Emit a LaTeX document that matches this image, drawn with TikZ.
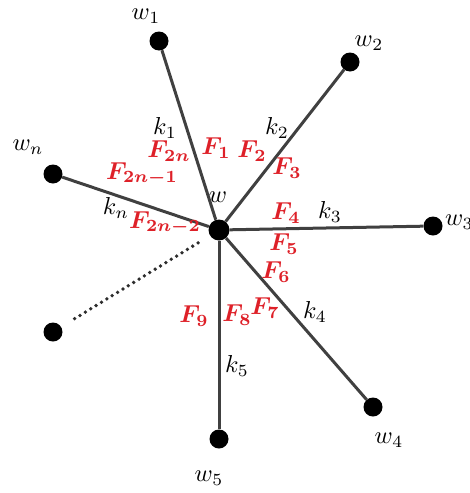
\documentclass[tikz,border=0pt]{standalone}
\usepackage{amsmath}
\usepackage{graphicx}
\definecolor{lred}{RGB}{222,32,40}
\definecolor{lgray}{RGB}{64,64,64}
\newcommand{\mylbl}[1]{\scalebox{2.45}{$#1$}}
\newcommand{\myflbl}[1]{\scalebox{2.45}{\boldmath$#1$}}
\tikzset{
  dot/.style={circle,fill=black,inner sep=0pt,minimum size=19pt},
  cdot/.style={circle,fill=black,inner sep=0pt,minimum size=21pt},
  edge/.style={draw=lgray,line width=3pt},
  dotline/.style={draw=lgray!70!black,line width=3.8pt,line cap=round,dash pattern=on 0pt off 6.3pt},
  lab/.style={inner sep=0pt},
  flab/.style={inner sep=0pt,text=lred}
}
\begin{document}
\begin{tikzpicture}[x=1pt,y=-1pt]
\useasboundingbox (0,0) rectangle (470,493);
% vertices
\node[cdot] (c) at (219,230) {};
\node[dot] (w1) at (159,41) {};
\node[dot] (w2) at (350,62) {};
\node[dot] (w3) at (433,226) {};
\node[dot] (w4) at (373,407) {};
\node[dot] (w5) at (219,439) {};
\node[dot] (wn) at (53,174) {};
\node[dot] (wd) at (53,332) {};
% edges
\draw[edge] (c) -- (w1);
\draw[edge] (c) -- (w2);
\draw[edge] (c) -- (w3);
\draw[edge] (c) -- (w4);
\draw[edge] (c) -- (w5);
\draw[edge] (c) -- (wn);
\path (wd) -- (c) coordinate[pos=0.09] (ds) coordinate[pos=0.93] (de);
\draw[dotline] (ds) -- (de);
% vertex labels
\node[lab] (lw) at (218,197) {\mylbl{w}};
\node[lab] (lw1) at (146,16) {\mylbl{w_1}};
\node[lab] (lw2) at (369,43) {\mylbl{w_2}};
\node[lab,anchor=west] (lw3) at (445,222) {\mylbl{w_3}};
\node[lab] (lw4) at (389,440) {\mylbl{w_4}};
\node[lab] (lw5) at (209,478) {\mylbl{w_5}};
\node[lab] (lwn) at (28,147) {\mylbl{w_n}};
% edge labels
\node[lab] (k1) at (165,128) {\mylbl{k_1}};
\node[lab] (k2) at (277,128) {\mylbl{k_2}};
\node[lab] (k3) at (330,212) {\mylbl{k_3}};
\node[lab] (k4) at (315,312) {\mylbl{k_4}};
\node[lab] (k5) at (237,366) {\mylbl{k_5}};
\node[lab] (kn) at (116,208) {\mylbl{k_n}};
% force labels
\node[flab] (F1) at (216,148) {\myflbl{F_1}};
\node[flab] (F2) at (252,151) {\myflbl{F_2}};
\node[flab] (F3) at (287,168) {\myflbl{F_3}};
\node[flab] (F4) at (286,213) {\myflbl{F_4}};
\node[flab] (F5) at (284,244) {\myflbl{F_5}};
\node[flab] (F6) at (276,272) {\myflbl{F_6}};
\node[flab] (F7) at (265,308) {\myflbl{F_7}};
\node[flab] (F8) at (237,315) {\myflbl{F_8}};
\node[flab] (F9) at (194,316) {\myflbl{F_9}};
\node[flab] (F2n) at (169,151) {\myflbl{F_{2n}}};
\node[flab] (F2n1) at (142,174) {\myflbl{F_{2n-1}}};
\node[flab] (F2n2) at (165,223) {\myflbl{F_{2n-2}}};
\end{tikzpicture}
\end{document}
